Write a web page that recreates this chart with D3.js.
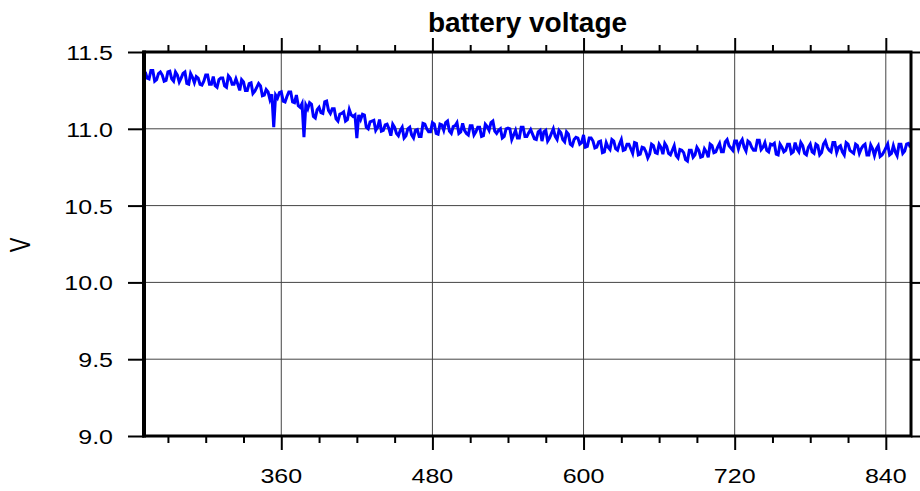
<!DOCTYPE html>
<html><head><meta charset="utf-8">
<script src="https://cdn.jsdelivr.net/npm/d3@7"></script>
<style>html,body{margin:0;padding:0;background:#fff;} svg{display:block;} text{font-family:"Liberation Sans",Arial,Helvetica,sans-serif;fill:#000;}</style>
</head><body><svg id="c" width="920" height="491"></svg>
<script>
const title = "battery voltage";
const yLabel = "V";
const yTicks = [9.0, 9.5, 10.0, 10.5, 11.0, 11.5];
const xMajor = [360, 480, 600, 720, 840];
const xMinor = [270, 300, 330, 390, 420, 450, 510, 540, 570, 630, 660, 690, 750, 780, 810];
// samples every 1.5 time units, starting at 252
const tStart = 252, tStep = 1.5;
const volts = [
11.37,11.33,11.325,11.38,11.38,11.31,11.32,11.36,11.37,11.35,11.31,11.315,11.37,11.375,11.325,11.31,11.37,11.35,11.305,11.33,
11.36,11.37,11.295,11.29,11.36,11.335,11.30,11.34,11.33,11.29,11.285,11.31,11.35,11.35,11.29,11.29,11.34,11.28,11.27,11.32,
11.33,11.33,11.28,11.27,11.345,11.33,11.29,11.29,11.325,11.29,11.25,11.32,11.305,11.25,11.25,11.295,11.30,11.23,11.245,11.27,
11.295,11.28,11.215,11.22,11.255,11.24,11.19,11.225,11.01,11.22,11.20,11.235,11.24,11.18,11.175,11.21,11.24,11.24,11.175,11.17,
11.22,11.15,11.14,11.165,10.945,11.155,11.13,11.17,11.16,11.08,11.07,11.125,11.14,11.105,11.10,11.175,11.18,11.12,11.10,11.13,
11.13,11.065,11.05,11.095,11.10,11.11,11.05,11.06,11.125,11.09,11.08,11.09,10.94,11.09,11.06,11.095,11.09,11.01,11.00,11.045,
11.05,11.055,10.99,11.01,11.06,10.985,10.99,11.025,11.03,11.0,10.955,11.03,11.01,10.97,10.955,10.99,11.01,10.94,10.955,11.0,
11.01,10.96,10.94,10.99,10.995,10.95,10.95,11.035,11.03,11.0,10.98,10.98,11.04,11.03,10.97,10.965,11.03,11.025,10.99,11.04,
11.05,10.985,10.97,11.015,11.02,11.04,10.97,10.98,11.035,10.99,10.97,10.96,11.02,11.02,10.96,10.98,11.01,11.01,10.95,10.955,
11.03,11.015,10.99,11.04,11.05,10.985,10.97,10.99,11.0,10.94,10.95,11.0,11.005,11.0,10.93,10.96,10.99,10.94,10.94,11.01,
11.01,10.95,10.95,10.975,10.995,10.965,10.935,10.93,10.98,10.99,10.92,10.98,10.99,10.92,10.94,10.97,11.0,10.95,10.93,10.99,
10.975,10.93,10.915,10.98,10.965,10.90,10.89,10.93,10.945,10.94,10.90,10.91,10.96,10.88,10.885,10.94,10.94,10.92,10.875,10.88,
10.915,10.92,10.845,10.85,10.91,10.88,10.865,10.93,10.92,10.87,10.86,10.90,10.93,10.86,10.865,10.90,10.90,10.87,10.84,10.91,
10.905,10.83,10.835,10.88,10.875,10.85,10.81,10.835,10.90,10.89,10.845,10.84,10.90,10.88,10.835,10.905,10.885,10.84,10.83,10.86,
10.89,10.825,10.81,10.865,10.86,10.845,10.80,10.79,10.86,10.86,10.815,10.83,10.88,10.86,10.815,10.82,10.87,10.85,10.815,10.90,
10.89,10.845,10.85,10.88,10.905,10.85,10.85,10.915,10.93,10.89,10.875,10.86,10.92,10.92,10.87,10.91,10.93,10.88,10.855,10.92,
10.91,10.88,10.86,10.86,10.925,10.925,10.865,10.88,10.91,10.86,10.85,10.90,10.895,10.905,10.835,10.83,10.90,10.88,10.85,10.86,
10.90,10.90,10.84,10.85,10.91,10.87,10.85,10.91,10.89,10.84,10.83,10.88,10.90,10.85,10.84,10.90,10.89,10.83,10.845,10.90,
10.92,10.88,10.86,10.85,10.91,10.91,10.845,10.88,10.89,10.85,10.83,10.91,10.90,10.86,10.85,10.84,10.90,10.89,10.84,10.87,
10.89,10.90,10.83,10.83,10.895,10.87,10.825,10.87,10.89,10.82,10.83,10.85,10.875,10.90,10.83,10.84,10.89,10.85,10.825,10.90,
10.90,10.84,10.855,10.90,10.905,10.88];
const times = volts.map((_, i) => tStart + i * tStep);

const svg = d3.select("#c");
const L = 144, R = 911, T = 52, B = 436;
const x = d3.scaleLinear().domain([251, 860]).range([L, R]);
const y = d3.scaleLinear().domain([9, 11.5]).range([B, T]);

// grid
svg.append("g").selectAll("line").data(xMajor).join("line")
  .attr("x1", d => x(d)).attr("x2", d => x(d)).attr("y1", T).attr("y2", B)
  .attr("stroke", "#444").attr("stroke-width", 1);
svg.append("g").selectAll("line").data(yTicks.slice(1, -1)).join("line")
  .attr("x1", L).attr("x2", R).attr("y1", d => y(d)).attr("y2", d => y(d))
  .attr("stroke", "#444").attr("stroke-width", 1);

// data
svg.append("clipPath").attr("id", "clip").append("rect")
  .attr("x", L).attr("y", T).attr("width", R - L).attr("height", B - T);
const line = d3.line().x((d, i) => x(times[i])).y(d => y(d));
svg.append("path").datum(volts).attr("d", line)
  .attr("fill", "none").attr("stroke", "#0000ff").attr("stroke-width", 3)
  .attr("stroke-linejoin", "miter").attr("clip-path", "url(#clip)");

// ticks
function styleAxis(g) {
  g.select(".domain").remove();
  g.selectAll(".tick line").attr("stroke", "#000").attr("stroke-width", 2);
  g.selectAll(".tick text").remove();
}
svg.append("g").attr("transform", `translate(0,${B})`).call(d3.axisBottom(x).tickValues(xMajor).tickSize(14)).call(styleAxis);
svg.append("g").attr("transform", `translate(0,${B})`).call(d3.axisBottom(x).tickValues(xMinor).tickSize(7)).call(styleAxis);
svg.append("g").attr("transform", `translate(0,${T})`).call(d3.axisTop(x).tickValues(xMajor).tickSize(14)).call(styleAxis);
svg.append("g").attr("transform", `translate(0,${T})`).call(d3.axisTop(x).tickValues(xMinor).tickSize(7)).call(styleAxis);
svg.append("g").attr("transform", `translate(${L},0)`).call(d3.axisLeft(y).tickValues(yTicks).tickSize(16)).call(styleAxis);
svg.append("g").attr("transform", `translate(${R},0)`).call(d3.axisRight(y).tickValues(yTicks).tickSize(14)).call(styleAxis);

// frame
svg.append("rect").attr("x", L).attr("y", T).attr("width", R - L).attr("height", B - T)
  .attr("fill", "none").attr("stroke", "#000").attr("stroke-width", 3);
svg.append("line").attr("x1", L).attr("x2", L).attr("y1", T - 1.5).attr("y2", B + 1.5)
  .attr("stroke", "#000").attr("stroke-width", 4);

// labels
svg.append("g").selectAll("text").data(xMajor).join("text")
  .attr("transform", d => `translate(${x(d)},483) scale(1.25,1)`)
  .attr("text-anchor", "middle").attr("font-size", 20).text(d => d);
const fmt = d3.format(".1f");
svg.append("g").selectAll("text").data(yTicks).join("text")
  .attr("transform", d => `translate(113,${y(d) + 8}) scale(1.25,1)`)
  .attr("text-anchor", "end").attr("font-size", 20).text(d => fmt(d));
svg.append("text").attr("transform", "translate(30,245) rotate(-90) scale(1,1.3)")
  .attr("text-anchor", "middle").attr("font-size", 22).text(yLabel);
svg.append("text").attr("x", (L + R) / 2).attr("y", 32)
  .attr("text-anchor", "middle").attr("font-size", 28).attr("font-weight", "bold").text(title);
</script></body></html>
